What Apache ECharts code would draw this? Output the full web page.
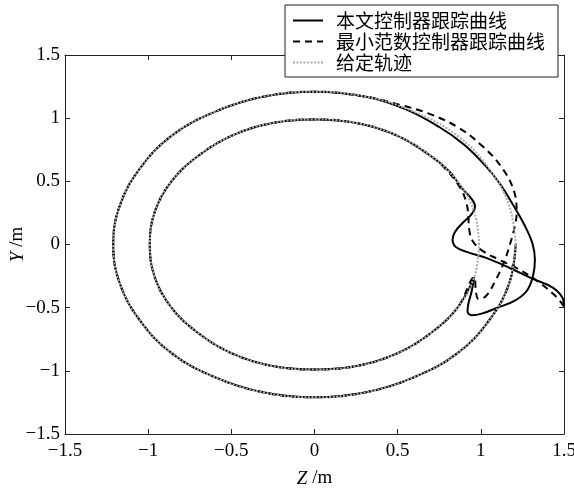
<!DOCTYPE html>
<html><head><meta charset="utf-8">
<script src="https://cdn.jsdelivr.net/npm/echarts@6/dist/echarts.min.js"></script>
<style>html,body{margin:0;padding:0;background:#fff}#c{width:574px;height:490px}</style>
</head><body><div id="c"></div>
<script>
// axis ticks
const zTicks = [-1.5, -1, -0.5, 0, 0.5, 1, 1.5];
const yTicks = [-1.5, -1, -0.5, 0, 0.5, 1, 1.5];
const seriesNames = ['本文控制器跟踪曲线', '最小范数控制器跟踪曲线', '给定轨迹'];

// given trajectory: inner circle (every 15 deg, from 0 deg CCW)
const refInner = [[0.99,0],[0.96,0.26],[0.86,0.5],[0.7,0.7],[0.5,0.86],[0.26,0.96],[0,0.99],[-0.26,0.96],[-0.5,0.86],[-0.7,0.7],[-0.86,0.5],[-0.96,0.26],[-0.99,0],[-0.96,-0.26],[-0.86,-0.5],[-0.7,-0.7],[-0.5,-0.86],[-0.26,-0.96],[0,-0.99],[0.26,-0.96],[0.5,-0.86],[0.7,-0.7],[0.86,-0.5],[0.96,-0.26],[0.99,0]];
// given trajectory: outer circle
const refOuter = [[1.21,0],[1.17,0.31],[1.05,0.6],[0.86,0.86],[0.6,1.05],[0.31,1.17],[0,1.21],[-0.31,1.17],[-0.6,1.05],[-0.86,0.86],[-1.05,0.6],[-1.17,0.31],[-1.21,0],[-1.17,-0.31],[-1.05,-0.6],[-0.86,-0.86],[-0.6,-1.05],[-0.31,-1.17],[0,-1.21],[0.31,-1.17],[0.6,-1.05],[0.86,-0.86],[1.05,-0.6],[1.17,-0.31],[1.21,0]];

// proposed controller: approach and inner->outer switch
const solidStart = [[1.5,-0.49],[1.49,-0.42],[1.43,-0.34],[1.31,-0.27],[1.18,-0.19],[1.04,-0.11],[0.92,-0.06],[0.85,-0.02],[0.83,0.04],[0.845,0.1],[0.89,0.17],[0.945,0.24],[0.965,0.3],[0.945,0.36],[0.89,0.44],[0.81,0.58],[0.7,0.7]];
const solidSwitch = [[0.945,-0.37],[0.925,-0.47],[0.92,-0.53],[0.945,-0.56],[1.01,-0.545],[1.1,-0.5],[1.21,-0.44],[1.28,-0.36],[1.315,-0.24],[1.325,-0.12],[1.31,0.01],[1.26,0.16],[1.2,0.3],[1.115,0.48],[1.03,0.62],[0.9,0.79],[0.75,0.93],[0.55,1.07]];
// minimum-norm controller: approach and switch
const dashStart = [[1.5,-0.49],[1.45,-0.41],[1.35,-0.3],[1.22,-0.19],[1.11,-0.12],[1.01,-0.05],[0.95,0.03],[0.93,0.12],[0.925,0.22],[0.915,0.32],[0.88,0.44],[0.8,0.58],[0.7,0.7]];
const dashSwitch = [[0.97,-0.36],[0.985,-0.43],[1.03,-0.41],[1.09,-0.28],[1.14,-0.14],[1.17,-0.02],[1.2,0.12],[1.215,0.25],[1.2,0.42],[1.12,0.62],[1.0,0.79],[0.86,0.93],[0.68,1.04],[0.5,1.11]];

const solidData = solidStart.concat(refInner.slice(4, 24), solidSwitch, refOuter.slice(5, 25));
const dashData = dashStart.concat(refInner.slice(4, 24), dashSwitch, refOuter.slice(5, 25));

const serif = '"Liberation Serif","Times New Roman",serif';
const cjk = '"Noto Sans CJK SC","Noto Sans CJK JP",sans-serif';
const fmt = v => String(v).replace('-', '\u2212');
const axisLine = {show: true, onZero: false, lineStyle: {color: '#222', width: 1}};
const axisTick = {show: true, inside: true, length: 5, lineStyle: {color: '#222'}};

const chart = echarts.init(document.getElementById('c'), null, {renderer: 'canvas'});
chart.setOption({
  animation: false,
  backgroundColor: '#fff',
  grid: {left: 65, right: 10, top: 55, bottom: 56, containLabel: false, outerBoundsMode: 'none'},
  legend: {
    orient: 'vertical', left: 285, top: 5,
    data: seriesNames,
    backgroundColor: '#fff', borderColor: '#222', borderWidth: 1, borderRadius: 0,
    padding: [5, 13, 4, 7], itemGap: 0, itemWidth: 30, itemHeight: 12,
    itemStyle: {opacity: 0},
    textStyle: {fontFamily: cjk, fontSize: 19, color: '#000', lineHeight: 21, padding: [0, 0, 0, 8]},
    z: 10
  },
  xAxis: [
    {type: 'value', min: zTicks[0], max: zTicks[zTicks.length - 1], interval: 0.5,
     axisLine, axisTick, splitLine: {show: false},
     axisLabel: {formatter: fmt, fontFamily: serif, fontSize: 19, color: '#000', margin: 8},
     name: '{i|Z} /m', nameLocation: 'middle', nameGap: 35, nameMoveOverlap: false,
     nameTextStyle: {fontFamily: serif, fontSize: 19, color: '#000',
       rich: {i: {fontFamily: serif, fontSize: 19, fontStyle: 'italic', color: '#000'}}}},
    {type: 'value', position: 'top', min: zTicks[0], max: zTicks[zTicks.length - 1], interval: 0.5,
     axisLine, axisTick, axisLabel: {show: false}, splitLine: {show: false}}
  ],
  yAxis: [
    {type: 'value', min: yTicks[0], max: yTicks[yTicks.length - 1], interval: 0.5,
     axisLine, axisTick, splitLine: {show: false},
     axisLabel: {formatter: fmt, fontFamily: serif, fontSize: 19, color: '#000', margin: 5},
     name: '{i|Y} /m', nameLocation: 'middle', nameGap: 38, nameRotate: 90, nameMoveOverlap: false,
     nameTextStyle: {fontFamily: serif, fontSize: 19, color: '#000',
       rich: {i: {fontFamily: serif, fontSize: 19, fontStyle: 'italic', color: '#000'}}}},
    {type: 'value', position: 'right', min: yTicks[0], max: yTicks[yTicks.length - 1], interval: 0.5,
     axisLine, axisTick, axisLabel: {show: false}, splitLine: {show: false}}
  ],
  series: [
    {name: seriesNames[0], type: 'line', data: solidData, smooth: 0.4, symbol: 'none', showSymbol: false,
     itemStyle: {color: '#000'}, lineStyle: {color: '#000', width: 2, type: 'solid'}, z: 2},
    {name: seriesNames[1], type: 'line', data: dashData, smooth: 0.4, symbol: 'none', showSymbol: false,
     itemStyle: {color: '#000'}, lineStyle: {color: '#000', width: 2, type: [7, 5]}, z: 3},
    {name: seriesNames[2], type: 'line', data: refInner, smooth: 0.4, symbol: 'none', showSymbol: false,
     itemStyle: {color: '#ababab'}, lineStyle: {color: '#ababab', width: 2, type: [2, 1.5]}, z: 4},
    {name: seriesNames[2], type: 'line', data: refOuter, smooth: 0.4, symbol: 'none', showSymbol: false,
     itemStyle: {color: '#ababab'}, lineStyle: {color: '#ababab', width: 2, type: [2, 1.5]}, z: 4}
  ]
});
</script></body></html>
